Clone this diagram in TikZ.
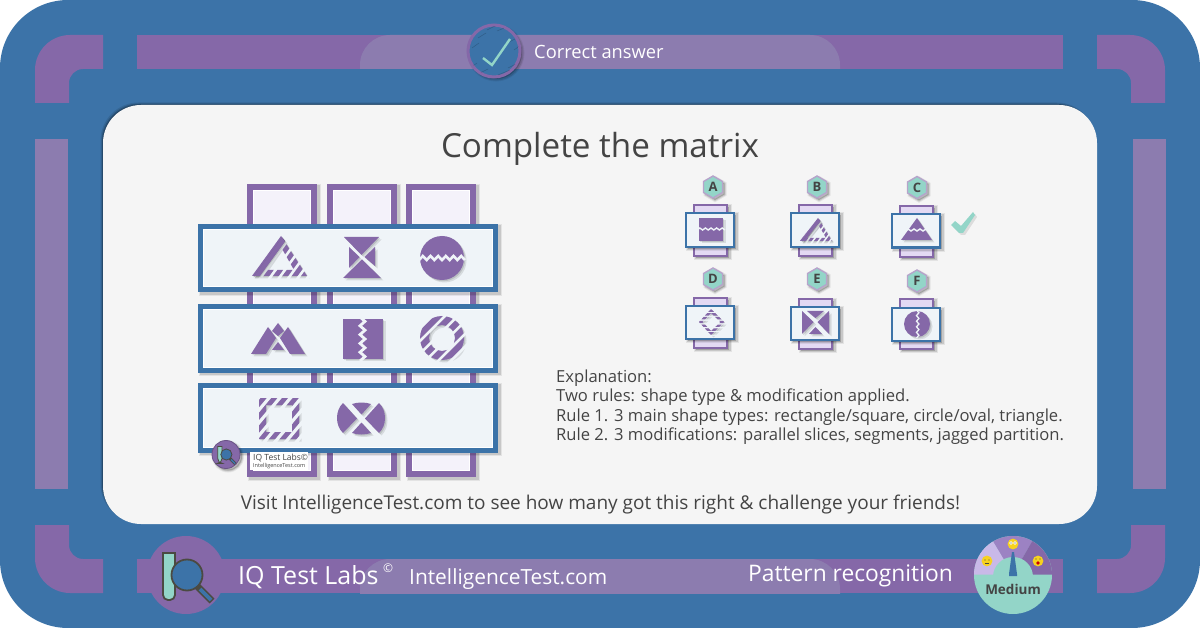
\documentclass[tikz,border=0pt]{standalone}
\usepackage{fontspec}
\setmainfont{Open Sans}
\definecolor{blu}{HTML}{3C73A8}
\definecolor{pur}{HTML}{8568A8}
\definecolor{pul}{HTML}{8C7CAF}
\definecolor{mint}{HTML}{93D5C8}
\definecolor{rowf}{HTML}{EFF4F8}
\definecolor{colf}{HTML}{F4F2FA}
\definecolor{optf}{HTML}{E3D9F3}
\definecolor{pan}{HTML}{F5F5F5}
\definecolor{ink}{HTML}{4B4A42}
\definecolor{txt}{HTML}{444444}
\definecolor{gl}{HTML}{C9B9E8}
\definecolor{gm}{HTML}{9C82C3}
\definecolor{emo}{HTML}{F7D21E}
\tikzset{
  x=1pt,y=-1pt,
  softshadow/.style={
    preaction={draw=black,fill=black,opacity=.07,line width=#1+3pt,transform canvas={xshift=2pt,yshift=-2pt}},
    preaction={draw=black,fill=black,opacity=.12,line width=#1+1pt,transform canvas={xshift=2pt,yshift=-2pt}}},
  colbox/.style={draw=pur,fill=colf,line width=6pt,softshadow=6pt},
  rowbox/.style={draw=blu,fill=rowf,line width=5pt,softshadow=5pt},
  inner/.style={draw=white,line width=1pt},
  ocol/.style={draw=pur,fill=optf,line width=2.4pt,softshadow=2pt},
  orow/.style={draw=blu,fill=rowf,line width=2.4pt,softshadow=2pt},
  hexa/.style={fill=mint,draw=pur!60,line width=1.4pt,softshadow=1pt},
  zig/.style={draw=rowf,line width=#1,line join=miter},
  wtext/.style={text=white,inner sep=0pt,anchor=base west},
  dtext/.style={text=txt,inner sep=0pt,anchor=base west,font=\fontsize{16.6}{16.6}\selectfont},
}
% shadowed fill of a path
\newcommand\glyph[1]{%
  \fill[black,opacity=.10,even odd rule,xshift=2.5pt,yshift=-2.5pt] #1;
  \fill[black,opacity=.12,even odd rule,xshift=1.2pt,yshift=-1.2pt] #1;
  \fill[pur,even odd rule] #1;}
% striped fill: #1 angle,#2 cx,#3 cy,#4 period,#5 bar,#6 path
\newcommand\striped[6]{%
  \begin{scope}[shift={(#2,#3)},rotate=#1]
  \clip \foreach \k in {-12,...,12} { ({\k*#4-#5/2},-60) rectangle ({\k*#4+#5/2},60) };
  \begin{scope}[rotate=-#1,shift={(-#2,-#3)}]
  \glyph{#6}
  \end{scope}
  \end{scope}}
\newcommand\zigh[6]{% x0 x1 y n amp width
  \draw[zig=#6] (#1,#3) \foreach \i in {1,...,#4} { -- ({#1+(\i-.5)*(#2-#1)/#4},{#3-#5}) -- ({#1+\i*(#2-#1)/#4},{#3}) };}
\newcommand\zigv[6]{% y0 y1 x n amp width
  \draw[zig=#6] (#3,#1) \foreach \i in {1,...,#4} { -- ({#3+#5},{#1+(\i-.5)*(#2-#1)/#4}) -- ({#3},{#1+\i*(#2-#1)/#4}) };}
\newcommand\corner{%
  \fill[pur] (35,103) -- (35,70) .. controls (35,50.7) and (50.7,35) .. (70,35) -- (103,35) -- (103,69) -- (83,69) .. controls (75.3,69) and (69,75.3) .. (69,83) -- (69,103) -- cycle;}
\newcommand\hexnode[2]{% name, centre x y
  \path (#2) ++(0,-11) coordinate (p1) ++(9.5,5.5) coordinate (p2) ++(0,11) coordinate (p3) ++(-9.5,5.5) coordinate (p4) ++(-9.5,-5.5) coordinate (p5) ++(0,-11) coordinate (p6);
  \path[hexa] (p1)--(p2)--(p3)--(p4)--(p5)--(p6)--cycle;
  \node[inner sep=0pt,text=txt,font=\fontsize{13}{13}\selectfont\bfseries] (hex#1) at (#2) {#1};}
\newcommand\iqlogo[1]{% #1 line width; drawn about the badge centre
  \draw[ink,fill=mint,line width=#1] (-23,-22) -- (-11,-22) [rounded corners=5pt] -- (-11,25) -- (-23,25) [sharp corners] -- cycle;
  \draw[ink,line width=#1*3.8] (11,11) -- (26,26);
  \draw[blu,line width=#1*2] (14,14) -- (25,25);
  \draw[ink,fill=blu,line width=#1] (1,0) circle[radius=15.5];}
\begin{document}
\begin{tikzpicture}
\useasboundingbox (0,0) rectangle (1200,628);
\fill[blu,rounded corners=68pt] (0,0) rectangle (1200,628);
% frame bars
\corner
\begin{scope}[shift={(1200,0)},xscale=-1]\corner\end{scope}
\begin{scope}[shift={(0,628)},yscale=-1]\corner\end{scope}
\begin{scope}[shift={(1200,628)},xscale=-1,yscale=-1]\corner\end{scope}
\fill[pur] (137,35) rectangle (1063,69);
\fill[pur] (137,559) rectangle (1063,593);
\fill[pul] (35,139) rectangle (68,489);
\fill[pul] (1133,139) rectangle (1166,489);
\begin{scope}
\clip (137,35) rectangle (1063,69);
\fill[pul,rounded corners=30pt] (360,35) rectangle (840,110);
\end{scope}
\begin{scope}
\clip (137,559) rectangle (1063,593);
\fill[pul,rounded corners=30pt] (360,559) rectangle (840,640);
\end{scope}
% panel
\fill[black,opacity=.10,rounded corners=38pt] (100.5,102.5) rectangle (1095,522);
\fill[black,opacity=.16,rounded corners=38pt] (101.5,103.5) rectangle (1095,522);
\fill[black,opacity=.2,rounded corners=38pt] (102.3,104.3) rectangle (1095,522);
\fill[pan,rounded corners=38pt] (103,105) rectangle (1097,524);
\node[inner sep=0pt,text=txt,font=\fontsize{33.2}{33.2}\selectfont] (title) at (600,149) {Complete the matrix};
% matrix columns
\path[colbox] (250,187) rectangle (314,474);
\path[colbox] (330,187) rectangle (394,474);
\path[colbox] (409,187) rectangle (473,474);
\draw[inner] (253.5,190.5) rectangle (310.5,470.5);
\draw[inner] (333.5,190.5) rectangle (390.5,470.5);
\draw[inner] (412.5,190.5) rectangle (469.5,470.5);
% rows
\path[rowbox] (200.5,226.5) rectangle (495.5,290);
\path[rowbox] (200.5,306.5) rectangle (495.5,370.5);
\path[rowbox] (200.5,385.5) rectangle (495.5,450);
\draw[inner] (203.5,229.5) rectangle (492.5,287);
\draw[inner] (203.5,309.5) rectangle (492.5,367.5);
\draw[inner] (203.5,388.5) rectangle (492.5,447);
% R1 triangle
\glyph{(281,236) -- (285,241) -- (259,276) -- (252,276) -- cycle}
\striped{-36}{281}{256}{7.6}{4.6}{(281,236) -- (307,276) -- (252,276) -- cycle (281,247) -- (294,270) -- (265,270) -- cycle}
% R1 hourglass
\glyph{(344,237) -- (379,237) -- (361.5,255) -- cycle (343,278) -- (381,278) -- (362,259.5) -- cycle (349,247) -- (359.5,257) -- (349,268) -- cycle (375,247) -- (364.5,257) -- (375,266) -- cycle}
% R1 circle
\glyph{(442,258) circle[radius=22]}
\zigh{419}{465}{260}{6}{4}{2.6pt}
% R2 mountains
\glyph{(251,354) -- (268,327) -- (276,338) -- (266,354) -- cycle (305,354) -- (288,327) -- (280,338) -- (290,354) -- cycle (278,323) -- (284,331) -- (278,336) -- (272,331) -- cycle (278,342) -- (284,350) -- (272,350) -- cycle}
% R2 rectangle
\glyph{(343,319) rectangle (383,359)}
\zigv{317}{361}{360}{5}{5}{2.8pt}
% R2 ring
\striped{-45}{442}{338}{9}{6}{(442,338) circle[radius=22] (442,338) circle[radius=13]}
% R3 square
\striped{-40}{279}{418}{8.2}{4.6}{(259,398) rectangle (299,439) (266,405) rectangle (292,432)}
% R3 circle
\glyph{(343,403) .. controls (339,407) and (337,412) .. (337,418) .. controls (337,424) and (339,429) .. (343,433) -- (357,418.5) -- cycle (379,403) .. controls (383,407) and (385,412) .. (385,418) .. controls (385,424) and (383,429) .. (379,433) -- (365,418.5) -- cycle (352,404) .. controls (358,402) and (365,402) .. (371,404) -- (361.5,414.5) -- cycle (352,433) .. controls (358,435) and (365,435) .. (371,433) -- (361.5,422.5) -- cycle}
% watermark
\fill[white] (250,452) rectangle (308,470);
\node[inner sep=0pt,anchor=west,text=txt,font=\fontsize{8.5}{8.5}\selectfont] (wm1) at (253,458) {IQ Test Labs©};
\node[inner sep=0pt,anchor=west,text=txt,font=\fontsize{5.5}{5.5}\selectfont] (wm2) at (253,466) {IntelligenceTest.com};
\path[fill=pur,draw=pur!80!black,line width=.8pt,softshadow=1pt] (226,454.5) circle[radius=14];
\begin{scope}[shift={(226,454.5)},scale=.36]\iqlogo{.8pt}\end{scope}
% options
\path[ocol] (694,205) rectangle (727,256);
\path[orow] (686,213) rectangle (734,247);
\path[ocol] (799,205) rectangle (832,256);
\path[orow] (791,213) rectangle (839,247);
\path[ocol] (900,206) rectangle (933,257);
\path[orow] (892,214) rectangle (940,247.5);
\path[ocol] (694,298) rectangle (727,348);
\path[orow] (686,306) rectangle (734,339);
\path[ocol] (799,299) rectangle (832,349);
\path[orow] (791,307) rectangle (839,340);
\path[ocol] (900,299) rectangle (933,349);
\path[orow] (892,308) rectangle (940,341);
\hexnode{A}{713,187}
\hexnode{B}{817,187}
\hexnode{C}{917,187.5}
\hexnode{D}{713,279}
\hexnode{E}{817,279}
\hexnode{F}{917,281}
% A
\glyph{(699,218) rectangle (723,241)}
\zigh{697}{725}{230}{5}{2}{1.4pt}
% B
\glyph{(818,218) -- (820.5,221) -- (803,241) -- (800,241) -- cycle}
\striped{-36}{818}{230}{4.6}{2.7}{(818,218) -- (832,241) -- (800,241) -- cycle (818,224) -- (826,238) -- (807,238) -- cycle}
% C
\glyph{(917,218) -- (932,240) -- (901,240) -- cycle}
\zigh{905}{929}{231}{4}{2}{1.4pt}
% D
\striped{90}{711}{322}{3.8}{2.4}{(711,309) -- (724,322) -- (711,335) -- (699,322) -- cycle (711,313) -- (720.5,322) -- (711,331) -- (702.5,322) -- cycle}
% E
\glyph{(802,311) -- (813.5,322) -- (802,334) -- cycle (829,311) -- (817.5,322) -- (829,334) -- cycle (809,334) -- (815.5,327) -- (822,334) -- cycle (807,311) -- (824,311) -- (815.5,318) -- cycle}
% F
\glyph{(917,324) circle[radius=13]}
\zigv{310}{338}{916.5}{5}{2.4}{1.3pt}
% tick
\fill[black,opacity=.1,xshift=2pt,yshift=-2pt] (951,225) -- (955,221) -- (961,226) -- (973,212) -- (975,215) -- (963,233) -- (959,233) -- cycle;
\fill[mint] (951,225) -- (955,221) -- (961,226) -- (973,212) -- (975,215) -- (963,233) -- (959,233) -- cycle;
% explanation
\node[dtext] (ex1) at (556,383) {Explanation:};
\node[dtext] (ex2) at (556,402) {Two rules: shape type \& modification applied.};
\node[dtext] (ex3) at (556,421) {Rule 1. 3 main shape types: rectangle/square, circle/oval, triangle.};
\node[dtext] (ex4) at (556,440) {Rule 2. 3 modifications: parallel slices, segments, jagged partition.};
\node[inner sep=0pt,text=txt,font=\fontsize{19}{19}\selectfont] (visit) at (600.5,505) {Visit IntelligenceTest.com to see how many got this right \& challenge your friends!};
% top badge
\path[fill=blu,draw=pur,line width=3pt,softshadow=2pt] (494,51) circle[radius=26];
\begin{scope}
\clip (494,51) circle[radius=25];
\foreach \a/\b/\c in {478/38/8,487/30/10,497/31/12,505/44/10,472/48/7,470/68/7,478/74/10,498/75/12,508/68/10,514/50/7}
  \draw[black,opacity=.2,line width=.5pt] (\a,\b) -- ++(\c,-5);
\end{scope}
\draw[mint,line width=2.4pt] (483,58) -- (492,65) -- (510,39);
\node[wtext,font=\fontsize{18.3}{18.3}\selectfont] (correct) at (534,59) {Correct answer};
% bottom
\fill[pur] (186,575) circle[radius=39];
\begin{scope}[shift={(186,575)}]\iqlogo{1.8pt}\end{scope}
\node[wtext,font=\fontsize{25}{25}\selectfont] (iq) at (238,584) {IQ Test Labs};
\node[wtext,font=\fontsize{12}{12}\selectfont] (cp) at (383,572) {©};
\node[wtext,font=\fontsize{20.9}{20.9}\selectfont] (site) at (409,584) {IntelligenceTest.com};
\node[wtext,font=\fontsize{22.8}{22.8}\selectfont] (pat) at (748,581) {Pattern recognition};
% gauge
\fill[mint] (1013,575) circle[radius=39];
\coordinate (gc) at (1013,574.5);
\begin{scope}
\clip (1013,575) circle[radius=39];
\fill[gl] (gc) -- (960,574.5) -- (960,500) -- (970,500) -- (984,526) -- cycle;
\fill[gm] (gc) -- (984,526) -- (1041,526) -- cycle;
\fill[gm] (984,526) rectangle (1041,500);
\fill[pur] (gc) -- (1041,526) -- (1041,500) -- (1070,500) -- (1070,574.5) -- cycle;
\end{scope}
\fill[mint] (1013,577) circle[radius=20];
\fill[blu] (1012,552) -- (1014,552) -- (1017,574) -- (1017,576) -- (1009,576) -- (1009,574) -- cycle;
\foreach \p in {{987,561},{1013,544},{1038,561}}
  \fill[emo] (\p) circle[radius=5.4];
\fill[ink] (985,560) circle[radius=.6] (989,560) circle[radius=.6];
\draw[ink,line width=.5pt] (985,563.5) -- (989,563.5);
\fill[white] (1011,543) circle[radius=1.9] (1015,543) circle[radius=1.9];
\fill[ink] (1011,543) circle[radius=.7] (1015,543) circle[radius=.7];
\fill[ink] (1036,559) circle[radius=.7] (1040,559) circle[radius=.7];
\fill[red!80!black] (1038,563) circle[radius=1.8];
\node[inner sep=0pt,text=txt,font=\fontsize{13.5}{13.5}\selectfont\bfseries] (med) at (1013,589) {Medium};
\end{tikzpicture}
\end{document}
